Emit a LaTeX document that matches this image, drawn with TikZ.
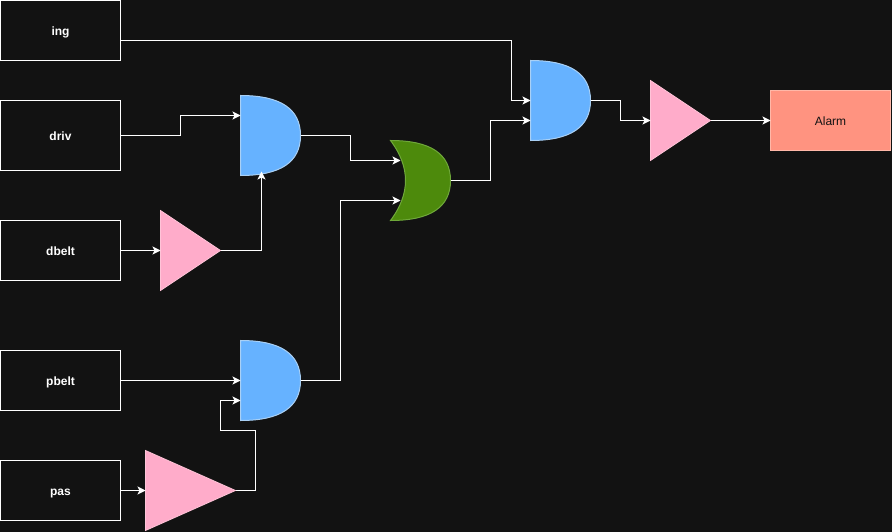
\documentclass[tikz,border=0pt]{standalone}
\usepackage{fontspec}
\setmainfont{Liberation Sans}
\usetikzlibrary{arrows.meta}
\definecolor{bgc}{HTML}{121212}
\definecolor{andfill}{HTML}{66B2FF}
\definecolor{andline}{HTML}{A9D0F5}
\definecolor{orfill}{HTML}{4D8A0C}
\definecolor{orline}{HTML}{6FA83A}
\definecolor{invfill}{HTML}{FFACCA}
\definecolor{invline}{HTML}{FFC4D8}
\definecolor{alarmfill}{HTML}{FF9380}
\definecolor{alarmline}{HTML}{FFB8A8}
\tikzset{
  inbox/.style={draw=white,line width=1pt,fill=bgc,text=white,font=\bfseries\fontsize{12}{14}\selectfont,inner sep=0pt,outer sep=0pt,text height=11pt,text depth=1pt,minimum width=120pt,anchor=north west},
  alarmbox/.style={draw=alarmline,line width=1pt,fill=alarmfill,text=bgc,font=\fontsize{12}{14}\selectfont,inner sep=0pt,outer sep=0pt,text height=11pt,text depth=1pt,minimum width=120pt,minimum height=60pt,anchor=north west},
  gatebox/.style={inner sep=0pt,anchor=north west,outer sep=0pt},
  wire/.style={draw=white,line width=1pt,-{Stealth[length=8pt,width=8pt,inset=2pt]}},
  andshape/.style={fill=andfill,draw=andline,line width=1pt},
  orshape/.style={fill=orfill,draw=orline,line width=1pt},
  invshape/.style={fill=invfill,draw=invline,line width=.8pt},
}
\newcommand{\andgate}[3]{%
  \node[gatebox,minimum width=60pt,minimum height=80pt] (#1) at (#2,#3) {};
  \draw[andshape,shift={(#2,#3)}] (0,0) .. controls (40,0) and (60,13.33) .. (60,40) .. controls (60,66.67) and (40,80) .. (0,80) -- cycle;
}
\newcommand{\invgate}[5]{%
  \node[gatebox,minimum width=#4pt,minimum height=#5pt] (#1) at (#2,#3) {};
  \draw[invshape,shift={(#2,#3)}] (0,0) -- (#4,#5/2) -- (0,#5) -- cycle;
}
\begin{document}
\begin{tikzpicture}[x=1pt,y=-1pt]
\fill[bgc] (0,0) rectangle (892,532);
\useasboundingbox (0,0) rectangle (892,532);
\begin{scope}[shift={(0.5,0.5)}]
\node[inbox,minimum height=60pt] (ing) at (0,0) {ing};
\node[inbox,minimum height=70pt] (driv) at (0,100) {driv};
\node[inbox,minimum height=60pt] (dbelt) at (0,220) {dbelt};
\node[inbox,minimum height=60pt] (pbelt) at (0,350) {pbelt};
\node[inbox,minimum height=60pt] (pas) at (0,460) {pas};
\node[alarmbox] (alarm) at (770,90) {Alarm};
\andgate{and1}{240}{95}
\andgate{and2}{240}{340}
\andgate{and3}{530}{60}
\invgate{inv1}{160}{210}{60}{80}
\invgate{inv2}{145}{450}{90}{80}
\invgate{inv3}{650}{80}{60}{80}
\node[gatebox,minimum width=60pt,minimum height=80pt] (or1) at (390,140) {};
\draw[orshape,shift={(390,140)}] (0,0) .. controls (40,0) and (60,13.33) .. (60,40) .. controls (60,66.67) and (40,80) .. (0,80) .. controls (20,53.33) and (20,26.67) .. (0,0) -- cycle;
\coordinate (or1a) at (400,160);
\coordinate (or1b) at (400,200);
\draw[wire] ([yshift=-10pt]ing.east) -- (511,40) |- (and3.west);
\draw[wire] (driv.east) -- (180,135) |- ([yshift=20pt]and1.west);
\draw[wire] (dbelt.east) -- (inv1.west);
\draw[wire] (inv1.east) -- (261,250) -- (261,171);
\draw[wire] (and1.east) -- (350,135) |- (or1a);
\draw[wire] (or1.east) -- (490,180) |- ([yshift=-20pt]and3.west);
\draw[wire] (pbelt.east) -- (and2.west);
\draw[wire] (pas.east) -- (inv2.west);
\draw[wire] (inv2.east) -- (255,490) -- (255,430) -- (220,430) |- ([yshift=-20pt]and2.west);
\draw[wire] (and2.east) -- (340,380) |- (or1b);
\draw[wire] (and3.east) -- (620,100) |- (inv3.west);
\draw[wire] (inv3.east) -- (alarm.west);
\end{scope}
\end{tikzpicture}
\end{document}
